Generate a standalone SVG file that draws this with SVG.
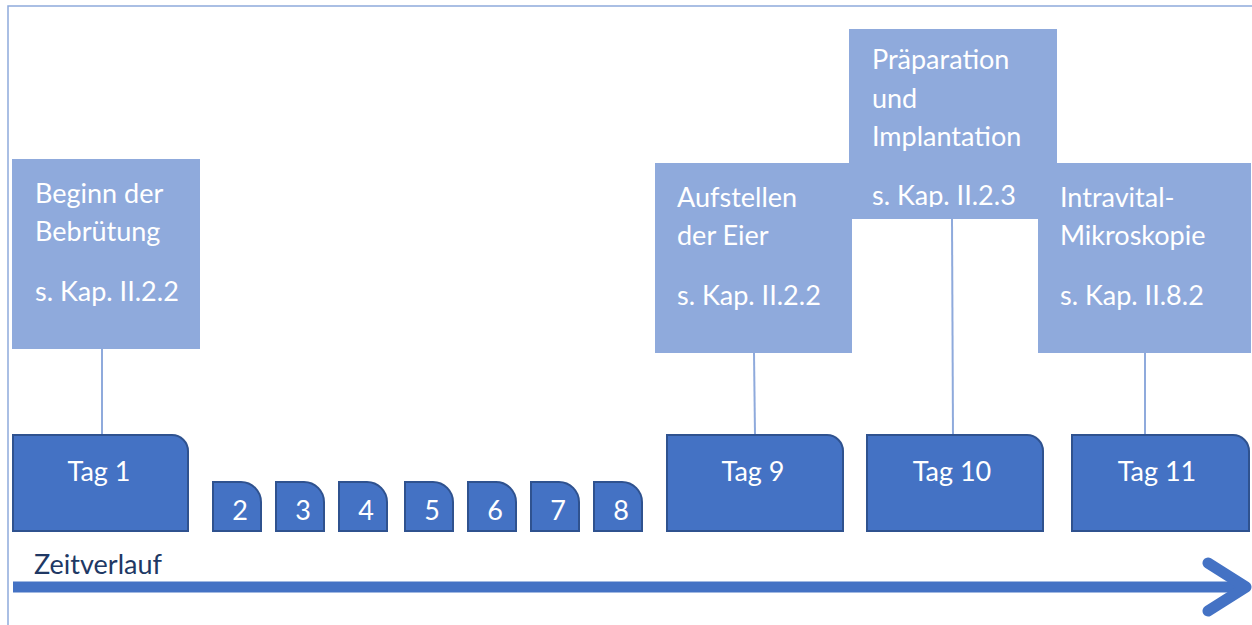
<svg xmlns="http://www.w3.org/2000/svg" width="1252" height="625" viewBox="0 0 1252 625">
<style>
.lb{fill:#8FAADC}
.db{fill:#4472C4;stroke:#2F528F;stroke-width:2}
.t{font-family:Lato,"Liberation Sans",sans-serif;font-size:27px;fill:#FFFFFF}
.c{text-anchor:middle}
.ln{stroke:#8FAADC;stroke-width:2;fill:none}
</style>
<defs>
<clipPath id="clipP"><rect x="849" y="29" width="208" height="178"/></clipPath>
</defs>
<rect x="0" y="0" width="1252" height="625" fill="#FFFFFF"/>
<path d="M8,625 V6 H1252" fill="none" stroke="#8FAADC" stroke-width="1.5"/>

<g id="connectors">
<line class="ln" x1="102" y1="348" x2="102" y2="435"/>
<line class="ln" x1="754" y1="353" x2="755" y2="435"/>
<line class="ln" x1="952" y1="219" x2="953" y2="435"/>
<line class="ln" x1="1145" y1="353" x2="1145" y2="435"/>
<g id="timeline" stroke="#4472C4" stroke-width="11" fill="none">
<line x1="13" y1="587" x2="1244" y2="587"/>
<polyline points="1208,563 1246,587 1208,611" stroke-linecap="round" stroke-linejoin="round"/>
</g>
</g>

<g id="note-beginn">
<rect class="lb" x="12" y="159" width="188" height="190"/>
<text class="t" x="35" y="203">Beginn der</text>
<text class="t" x="35" y="241">Bebrütung</text>
<text class="t" x="35" y="301">s. Kap. II.2.2</text>
</g>

<g id="note-praeparation">
<rect class="lb" x="849" y="29" width="208" height="190"/>
<g clip-path="url(#clipP)">
<text class="t" x="872" y="69">Präparation</text>
<text class="t" x="872" y="108">und</text>
<text class="t" x="872" y="146">Implantation</text>
<text class="t" x="872" y="205">s. Kap. II.2.3</text>
</g>
</g>

<g id="note-aufstellen">
<rect class="lb" x="655" y="163" width="197" height="190"/>
<text class="t" x="677" y="207">Aufstellen</text>
<text class="t" x="677" y="245">der Eier</text>
<text class="t" x="677" y="305">s. Kap. II.2.2</text>
</g>

<g id="note-intravital">
<rect class="lb" x="1038" y="163" width="213" height="190"/>
<text class="t" x="1060" y="207">Intravital-</text>
<text class="t" x="1060" y="245">Mikroskopie</text>
<text class="t" x="1060" y="305">s. Kap. II.8.2</text>
</g>

<g id="tag1">
<path class="db" d="M13,435 H172 A16,16 0 0 1 188,451 V531 H13 Z"/>
<text class="t c" x="99" y="481">Tag 1</text>
</g>
<g id="tag2">
<path class="db" d="M213,482 H241 A20,20 0 0 1 261,502 V531 H213 Z"/>
<text class="t c" x="240" y="520">2</text>
</g>
<g id="tag3">
<path class="db" d="M276,482 H304 A20,20 0 0 1 324,502 V531 H276 Z"/>
<text class="t c" x="303" y="520">3</text>
</g>
<g id="tag4">
<path class="db" d="M339,482 H367 A20,20 0 0 1 387,502 V531 H339 Z"/>
<text class="t c" x="366" y="520">4</text>
</g>
<g id="tag5">
<path class="db" d="M405,482 H433 A20,20 0 0 1 453,502 V531 H405 Z"/>
<text class="t c" x="432" y="520">5</text>
</g>
<g id="tag6">
<path class="db" d="M468,482 H496 A20,20 0 0 1 516,502 V531 H468 Z"/>
<text class="t c" x="495" y="520">6</text>
</g>
<g id="tag7">
<path class="db" d="M531,482 H559 A20,20 0 0 1 579,502 V531 H531 Z"/>
<text class="t c" x="558" y="520">7</text>
</g>
<g id="tag8">
<path class="db" d="M594,482 H622 A20,20 0 0 1 642,502 V531 H594 Z"/>
<text class="t c" x="621" y="520">8</text>
</g>
<g id="tag9">
<path class="db" d="M667,435 H827 A16,16 0 0 1 843,451 V531 H667 Z"/>
<text class="t c" x="753" y="481">Tag 9</text>
</g>
<g id="tag10">
<path class="db" d="M867,435 H1027 A16,16 0 0 1 1043,451 V531 H867 Z"/>
<text class="t c" x="952" y="481">Tag 10</text>
</g>
<g id="tag11">
<path class="db" d="M1072,435 H1233 A16,16 0 0 1 1249,451 V531 H1072 Z"/>
<text class="t c" x="1157" y="481">Tag 11</text>
</g>

<g id="label-zeitverlauf">
<text x="34" y="574" style="font-family:Lato,'Liberation Sans',sans-serif;font-size:27px;fill:#203864">Zeitverlauf</text>
</g>
</svg>
